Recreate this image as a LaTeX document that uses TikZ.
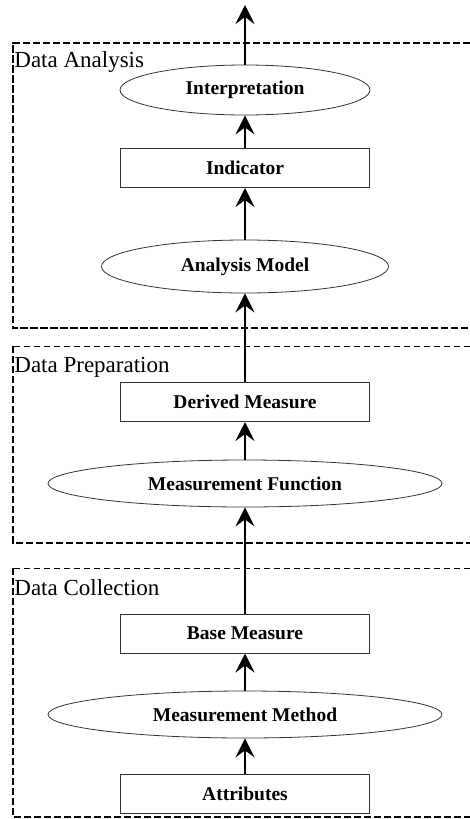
\documentclass[tikz,border=0pt]{standalone}
\usepackage{fontspec}
\setmainfont{Liberation Serif}
\usetikzlibrary{shapes.geometric,arrows.meta}

\tikzset{
  box/.style={draw=black!80,line width=0.5pt,rectangle,minimum width=124.5pt,
    minimum height=19.5pt,inner sep=0pt,font=\fontsize{9.75}{11}\selectfont\bfseries},
  oval/.style={draw=black!80,line width=0.4pt,ellipse,inner sep=0pt,
    font=\fontsize{9.75}{11}\selectfont\bfseries},
  flow/.style={line width=1pt,-{Stealth[length=9.5pt,width=9.5pt,inset=3.5pt]}},
  heavyline/.style={line width=1pt,dash pattern=on 3.7pt off 1.3pt},
  lightline/.style={line width=0.45pt,dash pattern=on 3pt off 2pt},
  phase/.style={anchor=base west,inner sep=0pt,font=\fontsize{11.5}{13}\selectfont}
}

\begin{document}
\begin{tikzpicture}[x=0.5pt,y=-0.5pt]
\useasboundingbox (0,0) rectangle (470,819);

% phase frames
\draw[heavyline] (470,42.5) -- (13,42.5) -- (13,328) -- (470,328);
\draw[lightline] (470,346) -- (13,346);
\draw[heavyline] (13,346) -- (13,543) -- (470,543);
\draw[lightline] (470,568) -- (13,568);
\draw[heavyline] (13,568) -- (13,817) -- (470,817);

\node[phase] (analysis) at (14,67) {Data Analysis};
\node[phase] (preparation) at (14,372) {Data Preparation};
\node[phase] (collection) at (14,595) {Data Collection};

% model elements
\node[oval,minimum width=125pt,minimum height=25pt] (interp) at (245,90) {Interpretation};
\node[box] (indicator) at (245,168) {Indicator};
\node[oval,minimum width=143.5pt,minimum height=26.5pt] (model) at (245,266.5) {Analysis Model};
\node[box] (derived) at (245,402) {Derived Measure};
\node[oval,minimum width=197pt,minimum height=23.5pt] (mfunc) at (245,483.5) {Measurement Function};
\node[box] (base) at (245,633.5) {Base Measure};
\node[oval,minimum width=197pt,minimum height=23.5pt] (mmethod) at (245,714.5) {Measurement Method};
\node[box] (attrib) at (245,793.5) {Attributes};
\coordinate (out) at (245,5);

% flow
\draw[flow] (attrib) -- (mmethod);
\draw[flow] (mmethod) -- (base);
\draw[flow] (base) -- (mfunc);
\draw[flow] (mfunc) -- (derived);
\draw[flow] (derived) -- (model);
\draw[flow] (model) -- (indicator);
\draw[flow] (indicator) -- (interp);
\draw[flow] (interp) -- (out);
\end{tikzpicture}
\end{document}
